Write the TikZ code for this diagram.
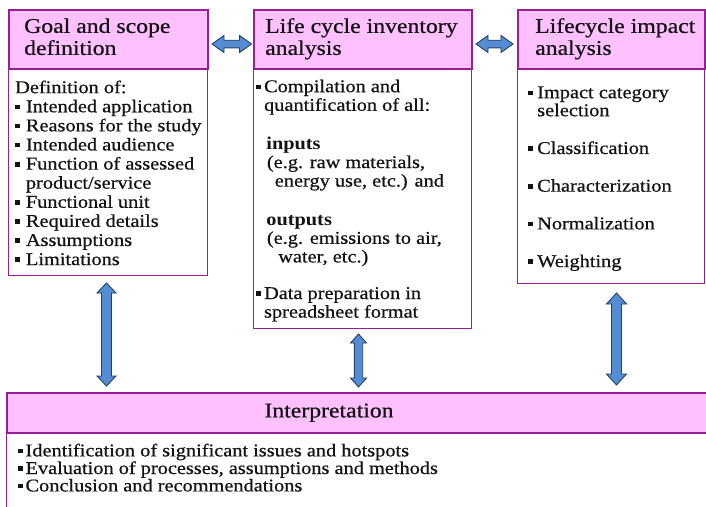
\documentclass[tikz,border=0pt]{standalone}
\usepackage{fontspec}
\usepackage{graphicx}
\setmainfont{Liberation Serif}[UprightFeatures={FakeBold=0.6}]
\usetikzlibrary{calc}

\definecolor{boxline}{RGB}{150,30,150}
\definecolor{headfill}{RGB}{255,192,255}
\definecolor{arrowfill}{RGB}{84,141,212}
\definecolor{arrowline}{RGB}{37,64,100}
\definecolor{txt}{RGB}{20,20,20}

% small square bullet, followed by its indent
\newcommand\bsq[1][8pt]{\makebox[#1][l]{\rule[3pt]{4.6pt}{4.6pt}}}
% left-aligned lines, set a little wider than the font's natural width
\newcommand\stx[1]{\scalebox{1.13}[1]{\begin{tabular}{@{}l@{}}#1\end{tabular}}}

% vertical double block arrow: top point, bottom point, half shaft, half head, head length
\newcommand\vdarrow[5]{%
  \draw[blockarrow] let \p1=(#1), \p2=(#2) in
    (\x1,\y1) -- (\x1+#4,\y1-#5) -- (\x1+#3,\y1-#5) -- (\x1+#3,\y2+#5)
    -- (\x1+#4,\y2+#5) -- (\x1,\y2) -- (\x1-#4,\y2+#5) -- (\x1-#3,\y2+#5)
    -- (\x1-#3,\y1-#5) -- (\x1-#4,\y1-#5) -- cycle;}
% horizontal double block arrow: left point, right point, half shaft, half head, head length
\newcommand\hdarrow[5]{%
  \draw[blockarrow] let \p1=(#1), \p2=(#2) in
    (\x1,\y1) -- (\x1+#5,\y1+#4) -- (\x1+#5,\y1+#3) -- (\x2-#5,\y1+#3)
    -- (\x2-#5,\y1+#4) -- (\x2,\y1) -- (\x2-#5,\y1-#4) -- (\x2-#5,\y1-#3)
    -- (\x1+#5,\y1-#3) -- (\x1+#5,\y1-#4) -- cycle;}

\tikzset{
  headbox/.style={draw=boxline, line width=2pt, fill=headfill, inner sep=0pt, anchor=north west},
  bodybox/.style={draw=boxline, line width=1pt, fill=white, inner sep=0pt, anchor=north west},
  headtxt/.style={font=\fontsize{21}{22}\selectfont, inner sep=0pt, text=txt},
  bodytxt/.style={font=\fontsize{18}{19.1}\selectfont, inner sep=0pt, text=txt, anchor=north west},
  blockarrow/.style={fill=arrowfill, draw=arrowline, line width=0.9pt, line join=miter},
}

\begin{document}
\begin{tikzpicture}[x=1pt, y=-1pt]
\useasboundingbox (0,0) rectangle (706,506);
\clip (0,0) rectangle (706,506);
\fill[white] (0,0) rectangle (706,506);

% Goal and scope definition
\node[bodybox, minimum width=199pt, minimum height=207pt] (gsb) at (8,68) {};
\node[headbox, minimum width=199pt, minimum height=59pt] (gsh) at (8,9) {};
\node[headtxt, anchor=west] (gst) at ($(gsh.west)+(16pt,0)$) {\stx{Goal and scope\\definition}};
\node[bodytxt] (gsl) at (15,79.6) {\stx{Definition of:\\
\bsq[9.5pt]Intended application\\
\bsq[9.5pt]Reasons for the study\\
\bsq[9.5pt]Intended audience\\
\bsq[9.5pt]Function of assessed\\
\hspace*{9.5pt}product/service\\
\bsq[9.5pt]Functional unit\\
\bsq[9.5pt]Required details\\
\bsq[9.5pt]Assumptions\\
\bsq[9.5pt]Limitations}};

% Life cycle inventory analysis
\node[bodybox, minimum width=218pt, minimum height=260pt] (lcb) at (253,68) {};
\node[headbox, minimum width=218pt, minimum height=59pt] (lch) at (253,9) {};
\node[headtxt, anchor=west] (lct) at ($(lch.west)+(12pt,0)$) {\stx{Life cycle inventory\\analysis}};
\node[bodytxt, font=\fontsize{18}{18.6}\selectfont] (lcl) at (256,79) {\stx{\bsq[7pt]Compilation and\\
\hspace*{7pt}quantification of all:\\[20pt]
\hspace*{9pt}\textbf{inputs}\\
\hspace*{9.5pt}(e.g. raw materials,\\
\hspace*{16.5pt}energy use, etc.) and\\[20pt]
\hspace*{9pt}\textbf{outputs}\\
\hspace*{9.5pt}(e.g. emissions to air,\\
\hspace*{19.5pt}water, etc.)\\[18pt]
\bsq[7pt]Data preparation in\\
\hspace*{7pt}spreadsheet format}};

% Lifecycle impact analysis
\node[bodybox, minimum width=187pt, minimum height=215pt] (lib) at (517,68) {};
\node[headbox, minimum width=187pt, minimum height=59pt] (lih) at (517,9) {};
\node[headtxt, anchor=west] (lit) at ($(lih.west)+(18pt,0)$) {\stx{Lifecycle impact\\analysis}};
\node[bodytxt, font=\fontsize{18}{18}\selectfont] (lil) at (528,85.4) {\stx{\bsq Impact category\\
\hspace*{8pt}selection\\[19.7pt]
\bsq Classification\\[19.7pt]
\bsq Characterization\\[19.7pt]
\bsq Normalization\\[19.7pt]
\bsq Weighting}};

% Interpretation
\node[bodybox, minimum width=706pt, minimum height=80pt] (inb) at (6,432) {};
\node[headbox, minimum width=706pt, minimum height=40pt] (inh) at (6,392) {};
\node[headtxt] (int) at ($(inh.west)+(323pt,0)$) {\stx{Interpretation}};
\node[bodytxt, font=\fontsize{18}{16.5}\selectfont] (inl) at (18,443.5) {\stx{\bsq[6.5pt]Identification of significant issues and hotspots\\
\bsq[6.5pt]Evaluation of processes, assumptions and methods\\
\bsq[6.5pt]Conclusion and recommendations}};

% arrow end points
\coordinate (h1l) at ($(gsh.east)+(3pt,-4.5pt)$);
\coordinate (h1r) at ($(lch.west |- h1l)+(-1.5pt,0)$);
\coordinate (h2l) at ($(lch.east)+(3pt,-4.5pt)$);
\coordinate (h2r) at ($(lih.west |- h2l)+(-4pt,0)$);
\coordinate (v1t) at ($(gsb.south)+(-1.5pt,-7pt)$);
\coordinate (v1b) at ($(v1t |- inh.north)+(0,6pt)$);
\coordinate (v2t) at ($(lcb.south)+(-4pt,-5pt)$);
\coordinate (v2b) at ($(v2t |- inh.north)+(0,5pt)$);
\coordinate (v3t) at ($(lib.south)+(5.5pt,-9pt)$);
\coordinate (v3b) at ($(v3t |- inh.north)+(0,7pt)$);

% double arrows between the stages
\hdarrow{h1l}{h1r}{3.8pt}{8.5pt}{12pt}
\hdarrow{h2l}{h2r}{3.8pt}{8.5pt}{12pt}
\vdarrow{v1t}{v1b}{5pt}{9.5pt}{10pt}
\vdarrow{v2t}{v2b}{4.2pt}{8pt}{9pt}
\vdarrow{v3t}{v3b}{5pt}{10pt}{11pt}
\end{tikzpicture}
\end{document}
